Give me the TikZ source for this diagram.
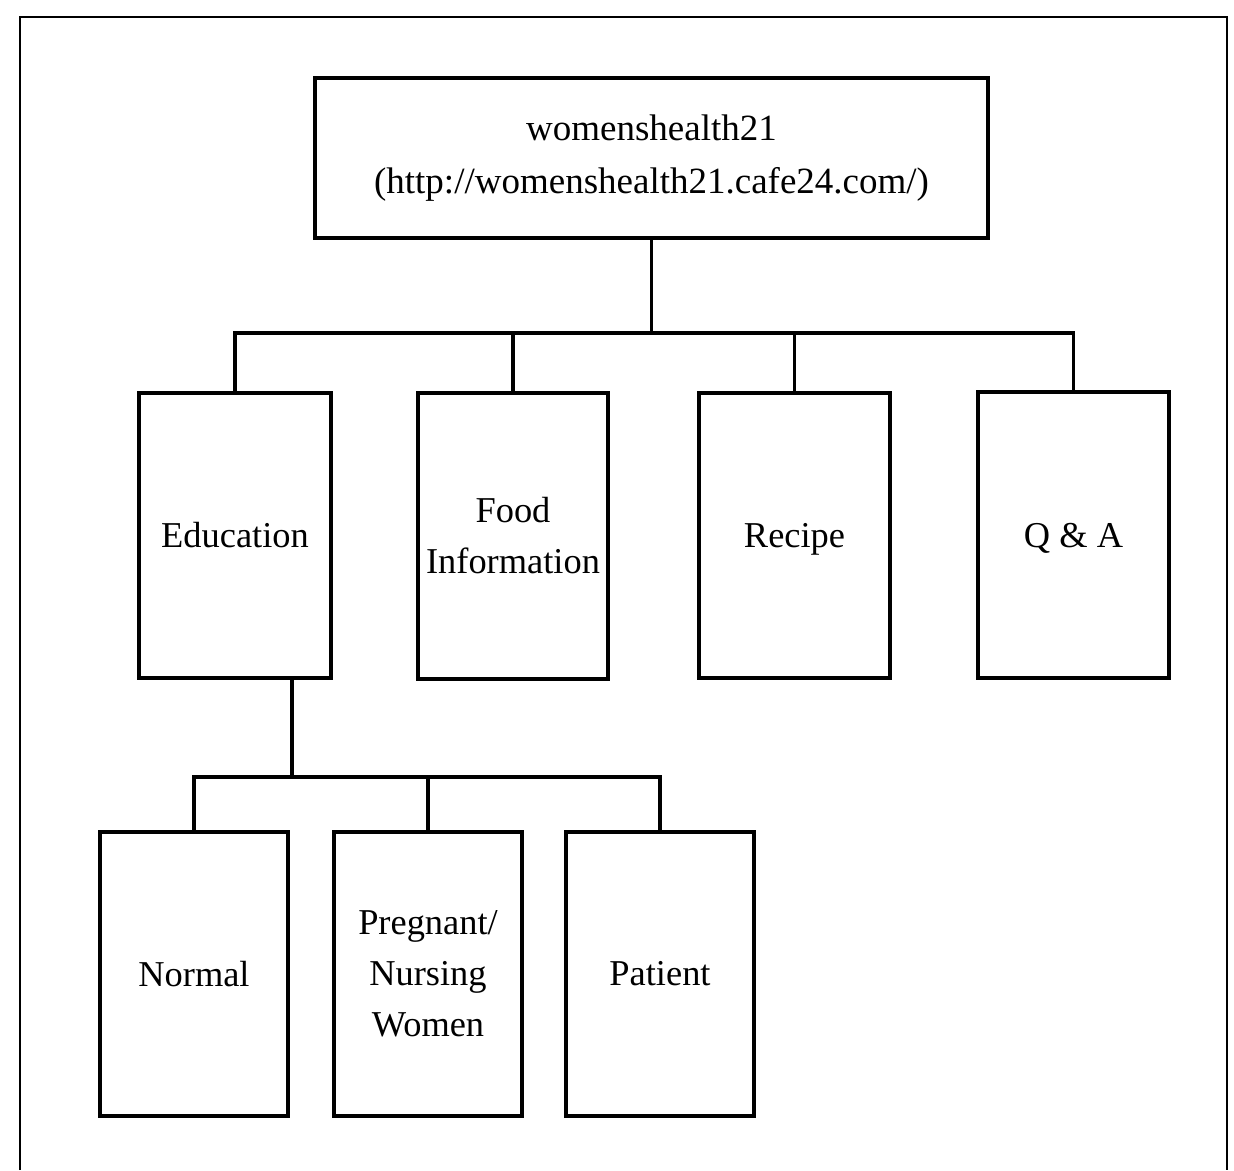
\documentclass[tikz,border=0pt]{standalone}
\usepackage{fontspec}
\setmainfont{Liberation Serif}
\begin{document}
\begin{tikzpicture}[x=0.5pt,y=-0.5pt,
  box/.style={draw=black,line width=1.9pt,rectangle,align=center,inner sep=0pt,
    font=\fontsize{18.2}{25.5}\selectfont},
  link/.style={draw=black,line width=1.6pt},
  frame/.style={draw=black,line width=1pt}]
\useasboundingbox (0,0) rectangle (1234,1170);
\draw[frame] (20,1170) -- (20,17) -- (1227,17) -- (1227,1170);
\node[box,minimum width=336.5pt,minimum height=80pt,font=\fontsize{18.5}{26.5}\selectfont] (top) at (651.5,158) {womenshealth21\\(http://womenshealth21.cafe24.com/)};
\node[box,minimum width=96pt,minimum height=142.5pt] (edu) at (235,535.5) {Education};
\node[box,minimum width=95pt,minimum height=143pt] (food) at (513,536) {Food\\Information};
\node[box,minimum width=95.5pt,minimum height=142.5pt] (recipe) at (794.5,535.5) {\smash{Recipe}\vphantom{d}};
\node[box,minimum width=95.5pt,minimum height=143pt] (qa) at (1073.5,535) {\smash{Q \& A}\vphantom{d}};
\node[box,minimum width=94pt,minimum height=142pt] (normal) at (194,974) {Normal};
\node[box,minimum width=94pt,minimum height=142pt] (preg) at (428,974) {Pregnant/\\Nursing\\Women};
\node[box,minimum width=94pt,minimum height=142pt] (patient) at (660,974) {Patient};
\coordinate (tb) at (651.5,333);
\coordinate (eb) at (292,777);
\draw[link] (top.south) -- (tb);
\draw[link] (edu.north) -- (edu.north |- tb) -- (qa.north |- tb) -- (qa.north);
\draw[link] (food.north) -- (food.north |- tb);
\draw[link] (recipe.north) -- (recipe.north |- tb);
\draw[link] (eb |- edu.south) -- (eb);
\draw[link] (normal.north) -- (normal.north |- eb) -- (patient.north |- eb) -- (patient.north);
\draw[link] (preg.north) -- (preg.north |- eb);
\end{tikzpicture}
\end{document}
